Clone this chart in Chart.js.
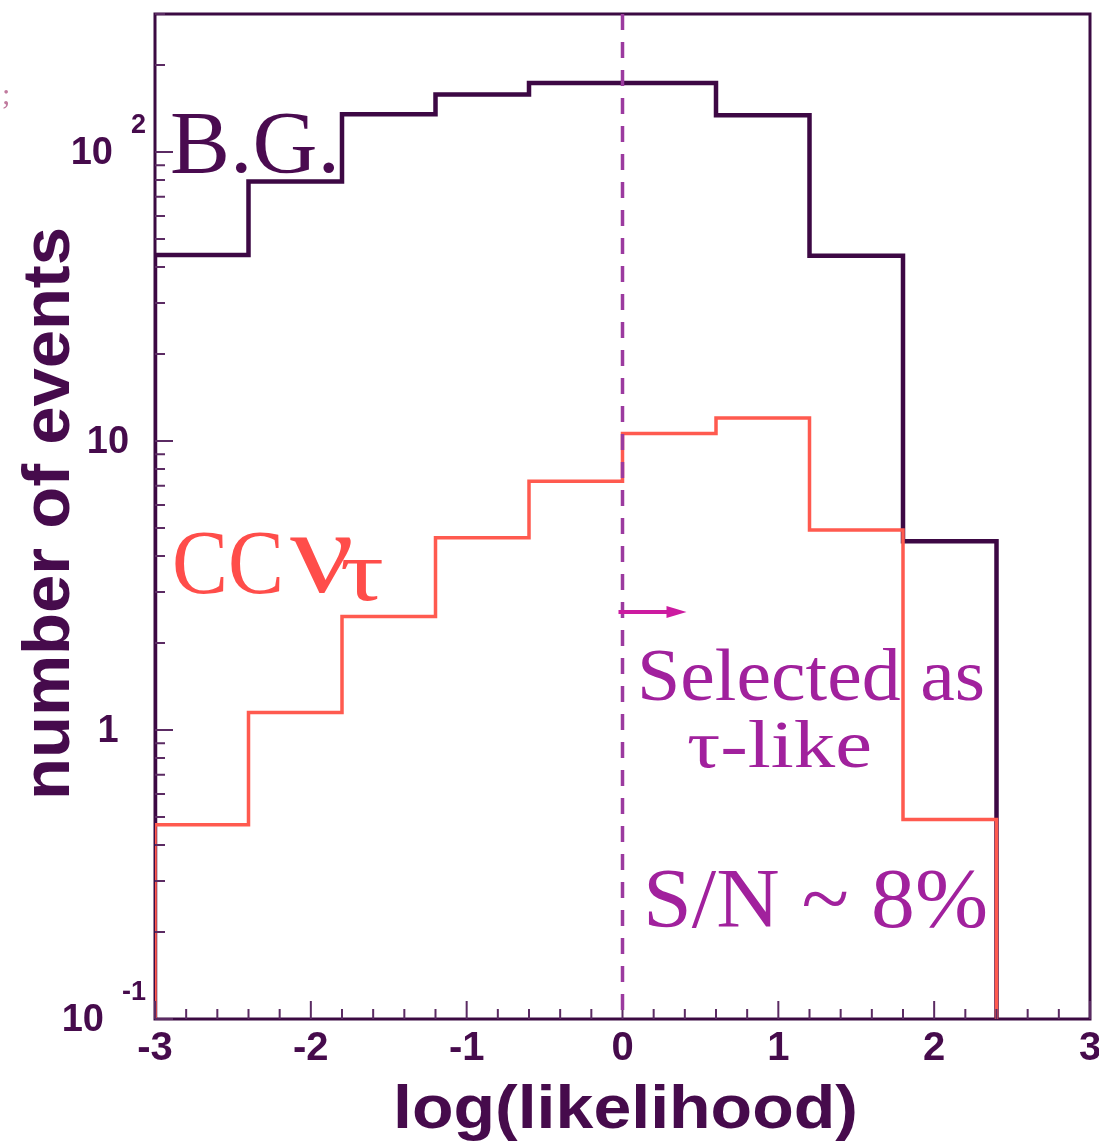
<!DOCTYPE html>
<html>
<head>
<meta charset="utf-8">
<script src="https://cdn.jsdelivr.net/npm/chart.js@4.4.1/dist/chart.umd.min.js"></script>
<style>
  html, body { margin: 0; padding: 0; background: #ffffff; }
  canvas { display: block; }
</style>
</head>
<body>
<canvas id="chart" width="1099" height="1143"></canvas>
<script>
// Histogram bins of log(likelihood), width 0.6
const binEdges = [-3, -2.4, -1.8, -1.2, -0.6, 0, 0.6, 1.2, 1.8, 2.4, 3];
// Background events per bin
const bgCounts = [44, 79, 135, 158, 173, 173, 134, 43.7, 4.5, 0];
// CC nu_tau signal events per bin
const ccNuTauCounts = [0.47, 1.15, 2.47, 4.62, 7.25, 10.6, 12.0, 4.92, 0.49, 0];
// Selection cut on log(likelihood)
const cutValue = 0;
// Axis ranges and tick labels
const xRange = [-3, 3];
const yRange = [0.1, 300];
const yDecadeValues = [0.1, 1, 10, 100];
const yDecadeBase = ['10', '1', '10', '10'];
const yDecadeExp = ['-1', '', '', '2'];

const INK = '#460b4c';
const FRAME = '#3b0a42';
const BG_LINE = '#3d0844';
const SIG_LINE = '#ff5a4f';
const SEL = '#a1219d';
const SANS = '"Liberation Sans", Arial, sans-serif';
const SERIF = '"Liberation Serif", "Times New Roman", serif';

// Step outline of a histogram; empty bins sit on the axis floor and the
// outline drops to the floor after the last filled bin.
function outline(edges, counts, floor) {
  const pts = [{ x: edges[0], y: floor }];
  let last = counts.length - 1;
  while (last >= 0 && !(counts[last] > 0)) last--;
  for (let i = 0; i <= last; i++) {
    pts.push({ x: edges[i], y: counts[i] > 0 ? counts[i] : floor });
  }
  pts.push({ x: edges[last + 1], y: floor });
  return pts;
}

// Draw text stretched horizontally to a given width
function wideText(ctx, text, x, y, width) {
  const w = ctx.measureText(text).width;
  ctx.save();
  ctx.translate(x, y);
  ctx.scale(width / w, 1);
  ctx.fillText(text, 0, 0);
  ctx.restore();
}

const framePlugin = {
  id: 'frame',
  beforeDatasetsDraw(chart) {
    const { ctx, chartArea: a } = chart;
    ctx.save();
    ctx.strokeStyle = FRAME;
    ctx.lineWidth = 3;
    ctx.strokeRect(a.left, a.top, a.right - a.left, a.bottom - a.top);
    ctx.restore();
  },
  afterDatasetsDraw(chart) {
    const { ctx, chartArea: a, scales: { x, y } } = chart;
    ctx.save();

    // inward tick marks: x minor every 0.2, major every 1
    ctx.strokeStyle = '#5b2b63';
    ctx.lineWidth = 2;
    ctx.beginPath();
    for (let i = Math.round(xRange[0] * 5); i <= Math.round(xRange[1] * 5); i++) {
      const px = x.getPixelForValue(i / 5);
      const len = (i % 5 === 0) ? 18 : 10;
      ctx.moveTo(px, a.bottom);
      ctx.lineTo(px, a.bottom - len);
    }
    // y log ticks: 1..9 per decade
    for (let d = 0.1; d <= yRange[1]; d *= 10) {
      for (let m = 1; m <= 9; m++) {
        const v = d * m;
        if (v < yRange[0] * 0.999 || v > yRange[1]) continue;
        const py = y.getPixelForValue(v);
        const len = (m === 1) ? 18 : 10;
        ctx.moveTo(a.left, py);
        ctx.lineTo(a.left + len, py);
      }
    }
    ctx.stroke();

    // selection cut
    const cx = x.getPixelForValue(cutValue);
    ctx.strokeStyle = '#9b3a9f';
    ctx.lineWidth = 3.5;
    ctx.setLineDash([16, 12]);
    ctx.beginPath();
    ctx.moveTo(cx, a.top);
    ctx.lineTo(cx, a.bottom);
    ctx.stroke();
    ctx.setLineDash([]);

    // arrow pointing to the selected side
    const ay = 612;
    ctx.strokeStyle = '#cc1ba0';
    ctx.fillStyle = '#cc1ba0';
    ctx.lineWidth = 4;
    ctx.beginPath();
    ctx.moveTo(cx - 4, ay);
    ctx.lineTo(cx + 50, ay);
    ctx.stroke();
    ctx.beginPath();
    ctx.moveTo(cx + 64, ay);
    ctx.lineTo(cx + 44, ay - 6);
    ctx.lineTo(cx + 44, ay + 6);
    ctx.closePath();
    ctx.fill();

    // y decade labels with exponents
    ctx.fillStyle = INK;
    ctx.textBaseline = 'middle';
    for (let i = 0; i < yDecadeValues.length; i++) {
      const py = y.getPixelForValue(yDecadeValues[i]);
      if (yDecadeExp[i]) {
        ctx.font = 'bold 27px ' + SANS;
        ctx.textAlign = 'right';
        ctx.fillText(yDecadeExp[i], 146, py - 26);
        const ew = ctx.measureText(yDecadeExp[i]).width;
        ctx.font = 'bold 38px ' + SANS;
        ctx.fillText(yDecadeBase[i], 146 - ew - 18, py + 2);
      } else {
        ctx.font = 'bold 38px ' + SANS;
        ctx.textAlign = 'center';
        ctx.fillText(yDecadeBase[i], 108, py + 2);
      }
    }

    // axis titles
    ctx.textAlign = 'left';
    ctx.textBaseline = 'alphabetic';
    ctx.font = 'bold 62px ' + SANS;
    wideText(ctx, 'log(likelihood)', 393, 1128, 465);
    ctx.save();
    ctx.translate(69, 800);
    ctx.rotate(-Math.PI / 2);
    ctx.font = 'bold 66px ' + SANS;
    wideText(ctx, 'number of events', 0, 0, 573);
    ctx.restore();

    // series and selection annotations
    ctx.fillStyle = '#4a0b50';
    ctx.font = '88px ' + SERIF;
    wideText(ctx, 'B.G.', 170, 172, 170);

    ctx.fillStyle = '#ff4d4a';
    ctx.font = '90px ' + SERIF;
    wideText(ctx, 'CC', 172, 593, 112);
    ctx.font = '118px ' + SERIF;
    wideText(ctx, 'ν', 290, 592, 64);
    ctx.font = '86px ' + SERIF;
    wideText(ctx, 'τ', 340, 600, 44);

    ctx.fillStyle = SEL;
    ctx.font = '73px ' + SERIF;
    wideText(ctx, 'Selected as', 637, 700, 348);
    ctx.font = '68px ' + SERIF;
    wideText(ctx, 'τ-like', 687, 767, 185);
    ctx.font = '84px ' + SERIF;
    wideText(ctx, 'S/N ~ 8%', 643, 927, 345);

    ctx.fillStyle = '#c07a9e';
    ctx.font = '30px ' + SERIF;
    ctx.fillText(';', 2, 104);
    ctx.restore();
  }
};

new Chart(document.getElementById('chart').getContext('2d'), {
  type: 'line',
  data: {
    datasets: [
      {
        label: 'CC ντ',
        data: outline(binEdges, ccNuTauCounts, yRange[0]),
        stepped: 'before',
        borderColor: SIG_LINE,
        borderWidth: 3.5,
        pointRadius: 0,
        fill: false,
        order: 1
      },
      {
        label: 'B.G.',
        data: outline(binEdges, bgCounts, yRange[0]),
        stepped: 'before',
        borderColor: BG_LINE,
        borderWidth: 4.5,
        pointRadius: 0,
        fill: false,
        order: 2
      }
    ]
  },
  options: {
    responsive: false,
    animation: false,
    layout: { padding: { top: 14, right: 9, left: 0, bottom: 0 } },
    plugins: { legend: { display: false }, tooltip: { enabled: false } },
    scales: {
      x: {
        type: 'linear',
        min: xRange[0],
        max: xRange[1],
        grid: { display: false, drawTicks: false },
        border: { display: false },
        ticks: {
          stepSize: 1,
          padding: 6,
          color: INK,
          font: { family: SANS, size: 40, weight: 'bold' }
        },
        afterFit(scale) {
          scale.height = 124;
          scale.paddingLeft = 0;
          scale.paddingRight = 0;
        }
      },
      y: {
        type: 'logarithmic',
        min: yRange[0],
        max: yRange[1],
        grid: { display: false, drawTicks: false },
        border: { display: false },
        ticks: { display: false },
        afterFit(scale) { scale.width = 155; }
      }
    }
  },
  plugins: [framePlugin]
});
</script>
</body>
</html>
